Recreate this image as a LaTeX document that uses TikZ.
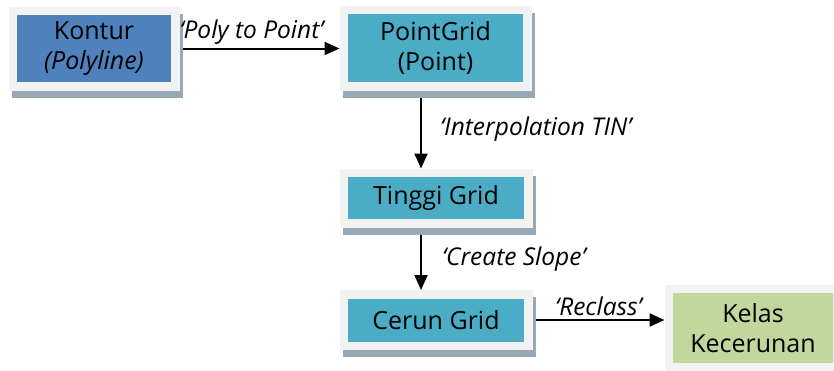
\documentclass[tikz,border=0pt]{standalone}
\usepackage{fontspec}
\setmainfont{Open Sans}
\usetikzlibrary{arrows.meta}

\definecolor{konturblue}{HTML}{4F81BD}
\definecolor{gridteal}{HTML}{4BACC6}
\definecolor{kelasgreen}{HTML}{C3D69B}
\definecolor{framegray}{HTML}{F2F2F2}
\definecolor{shadowgray}{HTML}{98A9B5}

\begin{document}
\begin{tikzpicture}[
		x=1pt, y=-1pt,
		box/.style={
			fill=#1, rectangle, align=center,
			inner sep=0pt, outer sep=8.5pt,
			font=\fontsize{25}{30}\selectfont,
			preaction={fill=shadowgray, draw=shadowgray, line width=17pt,
				transform canvas={shift={(3pt,-7pt)}}},
			preaction={draw=framegray, line width=17pt}
		},
		arr/.style={-{Triangle[length=15pt,width=13pt]}, line width=2pt},
		lbl/.style={font=\fontsize{24.5}{29}\selectfont\itshape, inner sep=4pt},
		]
		
		\useasboundingbox (0,0) rectangle (834,370);
		
		\node[box=konturblue, minimum width=154pt, minimum height=67pt]
			(kontur) at (94, 48.5) {Kontur\\\textit{(Polyline)}};
		\node[box=gridteal, minimum width=175pt, minimum height=68pt]
			(pg) at (435.5, 48) {PointGrid\\(Point)};
		\node[box=gridteal, minimum width=176pt, minimum height=42pt]
			(tg) at (436, 198) {Tinggi Grid};
		\node[box=gridteal, minimum width=176pt, minimum height=43pt]
			(cg) at (436, 320) {Cerun Grid};
		\node[box=kelasgreen, minimum width=160pt, minimum height=70pt]
			(kk) at (753, 328) {Kelas\\Kecerunan};
		
		\coordinate (axis) at (421, 0);
		
		\draw[arr, shorten <=3pt] (kontur.east) -- (kontur.east -| pg.west)
			node[lbl, midway, above, xshift=-8pt, yshift=-1pt] {‘Poly to Point’};
		\draw[arr, shorten <=7pt] (pg.south -| axis) -- (tg.north -| axis)
			node[lbl, midway, right, xshift=14pt] {‘Interpolation TIN’};
		\draw[arr, shorten <=7pt] (tg.south -| axis) -- (cg.north -| axis)
			node[lbl, midway, right, xshift=16pt] {‘Create Slope’};
		\draw[arr, shorten <=3pt] (cg.east) -- (cg.east -| kk.west)
			node[lbl, midway, above, yshift=-1pt] {‘Reclass’};
		
	\end{tikzpicture}
\end{document}
